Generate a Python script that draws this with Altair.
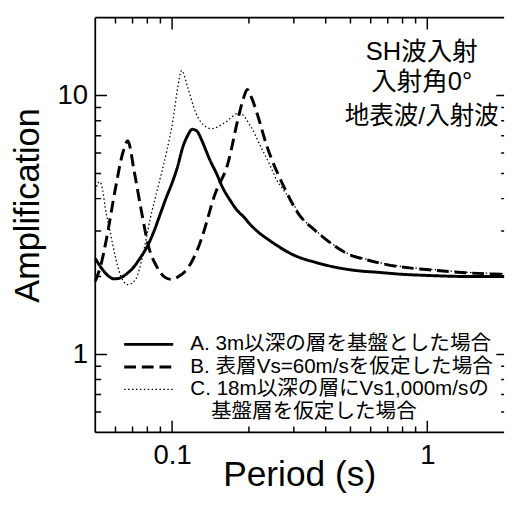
import altair as alt
import pandas as pd

# ---- data ----
A_T = [0.05, 0.053, 0.056, 0.059, 0.062, 0.066, 0.07, 0.075, 0.08, 0.085, 0.09, 0.095, 0.1, 0.105,
       0.11, 0.115, 0.12, 0.125, 0.13, 0.135, 0.14, 0.15, 0.156, 0.17, 0.18, 0.192, 0.2, 0.215,
       0.242, 0.272, 0.3, 0.364, 0.45, 0.55, 0.63, 0.8, 1.0, 1.5, 2.0]
A_A = [2.35, 2.15, 2.02, 1.96, 1.97, 2.04, 2.15, 2.36, 2.62, 3.0, 3.5, 4.05, 4.6, 5.3,
       6.3, 7.0, 7.41, 7.3, 6.8, 6.22, 5.7, 4.95, 4.52, 3.9, 3.6, 3.38, 3.22, 3.0,
       2.75, 2.55, 2.42, 2.27, 2.16, 2.1, 2.08, 2.04, 2.02, 2.0, 2.0]

B_T = [0.05, 0.0525, 0.0555, 0.0597, 0.0642, 0.067, 0.0711, 0.0754, 0.081, 0.0872, 0.0935, 0.099,
       0.106, 0.115, 0.1255, 0.131, 0.147, 0.166, 0.181, 0.19, 0.197, 0.205, 0.215, 0.235, 0.272,
       0.314, 0.364, 0.421, 0.487, 0.58, 0.7, 0.85, 1.04, 1.4, 2.0]
B_A = [1.92, 2.2, 2.84, 4.27, 6.04, 6.69, 5.08, 3.69, 2.6, 2.18, 1.99, 1.95,
       2.0, 2.15, 2.53, 2.84, 4.14, 5.53, 8.08, 9.7, 10.55, 9.8, 8.57, 6.4, 4.52,
       3.48, 3.01, 2.68, 2.45, 2.32, 2.22, 2.16, 2.12, 2.07, 2.04]

C_T = [0.05, 0.052, 0.0535, 0.0547, 0.0571, 0.0588, 0.062, 0.067, 0.072, 0.0743, 0.0765, 0.0823,
       0.0885, 0.0951, 0.1009, 0.1053, 0.109, 0.115, 0.1237, 0.135, 0.143, 0.1608, 0.1834, 0.203,
       0.2216, 0.242, 0.256, 0.272, 0.297, 0.314, 0.364, 0.421, 0.487, 0.58, 0.7, 0.85, 1.04, 1.4, 2.0]
C_A = [4.3, 4.65, 4.3, 3.69, 3.01, 2.6, 2.1, 1.86, 1.95, 2.12, 2.38, 3.38,
       4.52, 6.04, 8.08, 10.8, 12.5, 10.8, 8.6, 7.6, 7.45, 7.86, 8.57, 7.62,
       6.4, 5.38, 4.75, 4.35, 3.85, 3.5, 3.02, 2.69, 2.46, 2.33, 2.23, 2.17, 2.13, 2.08, 2.05]

LABELS = ["A. 3m以深の層を基盤とした場合",
          "B. 表層Vs=60m/sを仮定した場合",
          "C. 18m以深の層にVs1,000m/sの",
          "\u200b\u3000基盤層を仮定した場合"]

X_MAJOR = [0.1, 1]
X_MINOR = [0.06, 0.07, 0.08, 0.09, 0.2, 0.3, 0.4, 0.5, 0.6, 0.7, 0.8, 0.9]
Y_MAJOR = [1, 10]
Y_MINOR = [0.6, 0.7, 0.8, 0.9, 2, 3, 4, 5, 6, 7, 8, 9]

rows = []
for lab, ts, vs in [(LABELS[0], A_T, A_A), (LABELS[1], B_T, B_A), (LABELS[2], C_T, C_A)]:
    for t, v in zip(ts, vs):
        rows.append({"series": lab, "period": t, "amp": v})
df = pd.DataFrame(rows)

LATIN = "Liberation Sans, Arial, sans-serif"
MIXED = "Liberation Sans, Noto Sans CJK JP, sans-serif"

W, H = 417, 423
MAJ, MIN = 12, 6            # inward tick lengths
R_MAJ, R_MIN = 8, 3         # right-hand ticks, cut by the picture edge as in the original

xs = alt.Scale(type="log", domain=[0.05, 2], nice=False)
ys = alt.Scale(type="log", domain=[0.5, 20], nice=False)

ax_bottom = alt.Axis(orient="bottom", values=X_MAJOR, format="~g", domain=False, grid=False,
                     ticks=False, labelFont=LATIN, labelFontSize=28, labelPadding=10,
                     labelColor="black", labelFlush=False,
                     title="Period (s)", titleFont=LATIN, titleFontSize=36, titleFontWeight="normal",
                     titleColor="black", titleX=208, titleY=54, titleBaseline="alphabetic",
                     titleAlign="center")
ax_left = alt.Axis(orient="left", values=Y_MAJOR, format="~g", domain=False, grid=False,
                   ticks=False, labelFont=LATIN, labelFontSize=28, labelPadding=8, labelColor="black",
                   title="Amplification", titleFont=LATIN, titleFontSize=35,
                   titleFontWeight="normal", titleColor="black", titleX=-58, titleY=191,
                   titleAngle=270, titleBaseline="alphabetic", titleAlign="center")

leg = alt.Legend(orient="none", legendX=28, legendY=321.7, title=None, symbolType="stroke",
                 symbolSize=2500, symbolStrokeColor="black", labelFont=MIXED, labelFontSize=21,
                 labelColor="black", labelLimit=400, labelOffset=16, clipHeight=23,
                 rowPadding=0, padding=0)


def x_ticks(values, size):
    return alt.Chart(pd.DataFrame({"period": values})).mark_rule(
        color="black", strokeWidth=1.5, strokeDash=[size, H - 2 * size, size, 2000]
    ).encode(x=alt.X("period:Q", scale=xs, axis=ax_bottom), y=alt.value(0), y2=alt.value(H))


def y_ticks(values, size, rsize):
    return alt.Chart(pd.DataFrame({"amp": values})).mark_rule(
        color="black", strokeWidth=1.5, strokeDash=[size, W - size - rsize, rsize, 2000]
    ).encode(y=alt.Y("amp:Q", scale=ys, axis=ax_left), x=alt.value(0), x2=alt.value(W))


lines = alt.Chart(df).mark_line(color="black", interpolate="monotone").encode(
    x=alt.X("period:Q", scale=xs, axis=ax_bottom),
    y=alt.Y("amp:Q", scale=ys, axis=ax_left),
    strokeDash=alt.StrokeDash("series:N",
                              scale=alt.Scale(domain=LABELS, range=[[1, 0], [12, 6], [1.5, 2.5], [1, 0]]),
                              legend=leg),
    strokeWidth=alt.StrokeWidth("series:N",
                                scale=alt.Scale(type="ordinal", domain=LABELS, range=[3, 3, 1.3, 0]),
                                legend=leg),
)

frame = alt.Chart(pd.DataFrame({"k": [0]}))
border_left = frame.mark_rule(color="black", strokeWidth=1.8).encode(
    x=alt.value(0), y=alt.value(0), y2=alt.value(H))
border_top = frame.mark_rule(color="black", strokeWidth=1.8).encode(
    x=alt.value(0), x2=alt.value(W), y=alt.value(0))
border_bottom = frame.mark_rule(color="black", strokeWidth=1.8).encode(
    x=alt.value(0), x2=alt.value(W), y=alt.value(H))

chart = alt.layer(
    lines, x_ticks(X_MAJOR, MAJ), x_ticks(X_MINOR, MIN),
    y_ticks(Y_MAJOR, MAJ, R_MAJ), y_ticks(Y_MINOR, MIN, R_MIN),
    border_left, border_top, border_bottom
).properties(
    width=W, height=H,
    padding={"left": 3, "top": 4, "right": 0, "bottom": 0},
    title=alt.Title(text=["SH波入射", "入射角0°"], subtitle="地表波/入射波", anchor="end",
                    align="center", dx=-84, orient="top", frame="group", offset=-114,
                    font=MIXED, fontSize=26, fontWeight="normal", color="black", lineHeight=31,
                    subtitleFont=MIXED, subtitleFontSize=25, subtitleColor="black",
                    subtitlePadding=9),
).configure_view(stroke="transparent")

chart.save("out.html", embed_options={"renderer": "svg", "actions": False})
